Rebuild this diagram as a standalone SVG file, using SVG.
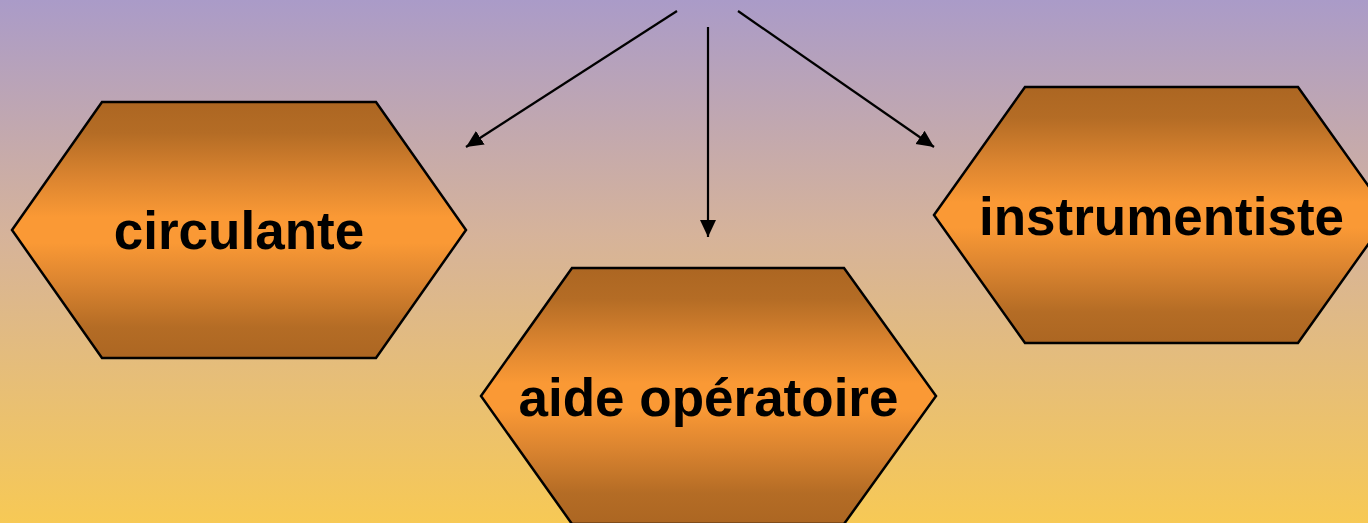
<svg xmlns="http://www.w3.org/2000/svg" width="1368" height="523" viewBox="0 0 1368 523">
<defs>
<linearGradient id="bg" x1="0" y1="0" x2="0" y2="1">
<stop offset="0" stop-color="#AA9BC8"/>
<stop offset="0.45" stop-color="#D6B39A"/>
<stop offset="1" stop-color="#F7C955"/>
</linearGradient>
<linearGradient id="hex" x1="0" y1="0" x2="0" y2="1">
<stop offset="0" stop-color="#AC6622"/>
<stop offset="0.12" stop-color="#B46C25"/>
<stop offset="0.3" stop-color="#DC8530"/>
<stop offset="0.45" stop-color="#FA9935"/>
<stop offset="0.55" stop-color="#FA9935"/>
<stop offset="0.7" stop-color="#DC8530"/>
<stop offset="0.88" stop-color="#B46C25"/>
<stop offset="1" stop-color="#AC6622"/>
</linearGradient>
<marker id="ah" markerWidth="18" markerHeight="18" viewBox="0 0 18 18" refX="17" refY="9" orient="auto" markerUnits="userSpaceOnUse">
<path d="M0,1 L17,9 L0,17 Z" fill="#000"/>
</marker>
<style>
.hx{fill:url(#hex);stroke:#000;stroke-width:2.5;stroke-linejoin:miter}
.lb{font-family:"Liberation Sans",Arial,sans-serif;font-weight:bold;font-size:53px;fill:#000;text-anchor:middle}
.cn{stroke:#000;stroke-width:2.2;fill:none;marker-end:url(#ah)}
</style>
</defs>
<rect x="0" y="0" width="1368" height="523" fill="url(#bg)"/>
<g id="connectors">
<line class="cn" x1="677" y1="11" x2="466" y2="147"/>
<line class="cn" x1="708" y1="27" x2="708" y2="237"/>
<line class="cn" x1="738" y1="11" x2="934" y2="147"/>
</g>
<g id="node-circulante">
<polygon class="hx" points="12,230 102,102 376,102 466,230 376,358 102,358"/>
<text class="lb" x="239" y="249">circulante</text>
</g>
<g id="node-instrumentiste">
<polygon class="hx" points="934,215 1025,87 1298,87 1389,215 1298,343 1025,343"/>
<text class="lb" x="1161.5" y="235">instrumentiste</text>
</g>
<g id="node-aide">
<polygon class="hx" points="481,396 572,268 844,268 936,396 844,524 572,524"/>
<text class="lb" x="708.5" y="416">aide opératoire</text>
</g>
</svg>
